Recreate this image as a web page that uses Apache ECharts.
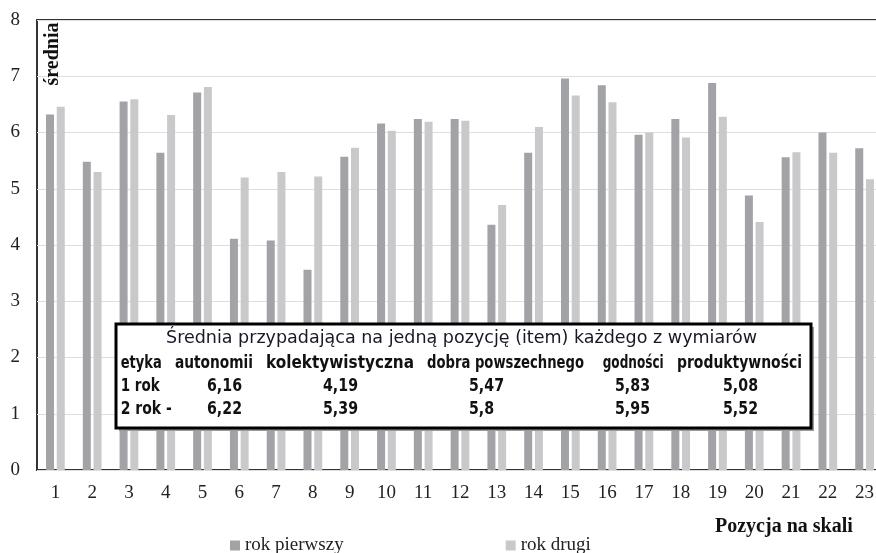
<!DOCTYPE html>
<html>
<head>
<meta charset="utf-8">
<script src="https://cdn.jsdelivr.net/npm/echarts@6/dist/echarts.min.js"></script>
<style>
html,body{margin:0;padding:0;background:#fff;}
#chart{width:876px;height:553px;}
</style>
</head>
<body>
<div id="chart"></div>
<script>
// ---- data ----
var categories = ['1','2','3','4','5','6','7','8','9','10','11','12','13','14','15','16','17','18','19','20','21','22','23'];
var rokPierwszy = [6.32,5.48,6.55,5.64,6.71,4.11,4.08,3.56,5.57,6.16,6.24,6.24,4.36,5.64,6.96,6.84,5.96,6.24,6.88,4.88,5.56,6.00,5.72];
var rokDrugi    = [6.46,5.30,6.59,6.31,6.81,5.20,5.30,5.22,5.73,6.03,6.19,6.21,4.71,6.10,6.66,6.54,6.00,5.91,6.28,4.41,5.65,5.64,5.17];
var seriesNames = ['rok pierwszy','rok drugi'];
var yAxisName = 'średnia';
var xAxisName = 'Pozycja na skali';

var tableTitle = 'Średnia przypadająca na jedną pozycję (item) każdego z wymiarów';
var tableHeader = ['etyka','autonomii','kolektywistyczna','dobra powszechnego','godności','produktywności'];
var rowLabels = ['1 rok','2 rok -'];
var row1 = ['6,16','4,19','5,47','5,83','5,08'];
var row2 = ['6,22','5,39','5,8','5,95','5,52'];

// ---- layout helpers ----
var SERIF = "'Liberation Serif','Times New Roman',serif";
var TAB = "'DejaVu Sans Condensed','DejaVu Sans',sans-serif";
var mctx = document.createElement('canvas').getContext('2d');
function measure(text, weight, size, family){
  mctx.font = weight + ' ' + size + 'px ' + family;
  return mctx.measureText(text).width;
}
var boldSize = 17;
var titleSize = 17;
var titleScale = 591 / measure(tableTitle,'normal',titleSize,TAB);
var numScale = 35 / measure('5,83','bold',boldSize,TAB);

function txt(text, x, y, opt){
  opt = opt || {};
  return {
    type:'text', x:x, y:y, z:110, scaleX: opt.scaleX || 1,
    style:{
      text:text, fill: opt.fill || '#111',
      fontFamily: opt.family || TAB, fontSize: opt.size || boldSize,
      fontWeight: opt.weight || 'bold',
      textAlign: opt.align || 'left', textVerticalAlign:'middle'
    }
  };
}
function fitScale(text, w){ return w / measure(text,'bold',boldSize,TAB); }

var headerX = [120.7,175,266,427,602.7,677];
var headerW = [41,78,148,157,61,125];
var rowLabelW = [39,51];
var numX = [207,323,469,615,723];
var rowY = [364,387,410];

var graphics = [];
// shadow + box
graphics.push({type:'rect', z:100, shape:{x:119,y:327,width:695,height:104}, style:{fill:'#9a9a9a'}});
graphics.push({type:'rect', z:101, shape:{x:116,y:324,width:695,height:104}, style:{fill:'#fff', stroke:'#000', lineWidth:3}});
graphics.push(txt(tableTitle, 166, 339, {weight:'normal', size:titleSize, scaleX:titleScale, fill:'#181826'}));
tableHeader.forEach(function(h,i){ graphics.push(txt(h, headerX[i], rowY[0], {scaleX:fitScale(h, headerW[i])})); });
[row1,row2].forEach(function(row,r){
  graphics.push(txt(rowLabels[r], headerX[0], rowY[r+1], {scaleX:fitScale(rowLabels[r], rowLabelW[r])}));
  row.forEach(function(v,i){ graphics.push(txt(v, numX[i], rowY[r+1], {scaleX:numScale})); });
});
// axis names
graphics.push({type:'text', x:53, y:54, rotation:Math.PI/2, z:110,
  style:{text:yAxisName, fill:'#111', fontFamily:SERIF, fontSize:20, fontWeight:'bold', textAlign:'center', textVerticalAlign:'middle'}});
graphics.push({type:'text', x:715, y:527, z:110,
  style:{text:xAxisName, fill:'#111', fontFamily:SERIF, fontSize:20, fontWeight:'bold', textAlign:'left', textVerticalAlign:'middle'}});

var chart = echarts.init(document.getElementById('chart'), null, {renderer:'canvas'});
chart.setOption({
  animation:false,
  backgroundColor:'#fff',
  grid:{left:37, top:20, width:846, height:450, show:true, borderColor:'#333', borderWidth:2, containLabel:false, outerBoundsMode:'none'},
  legend:{
    data:seriesNames, left:230, top:536, padding:0, icon:'rect', itemWidth:10, itemHeight:10, itemGap:162,
    textStyle:{fontFamily:SERIF, fontSize:19, color:'#222'}
  },
  xAxis:{
    type:'category', data:categories,
    axisLine:{show:false}, axisTick:{show:false},
    axisLabel:{margin:14, fontFamily:SERIF, fontSize:19, color:'#222'}
  },
  yAxis:{
    type:'value', min:0, max:8, interval:1,
    axisLine:{show:false}, axisTick:{show:false},
    axisLabel:{margin:17, fontFamily:SERIF, fontSize:19, color:'#222'},
    splitLine:{lineStyle:{color:'#dedede', width:1}}
  },
  series:[
    {name:seriesNames[0], type:'bar', data:rokPierwszy, barWidth:8, barGap:'34%', itemStyle:{color:'#a2a3a7'}},
    {name:seriesNames[1], type:'bar', data:rokDrugi, barWidth:8, barGap:'34%', itemStyle:{color:'#c9c9cb'}}
  ],
  graphic:graphics
});
</script>
</body>
</html>
